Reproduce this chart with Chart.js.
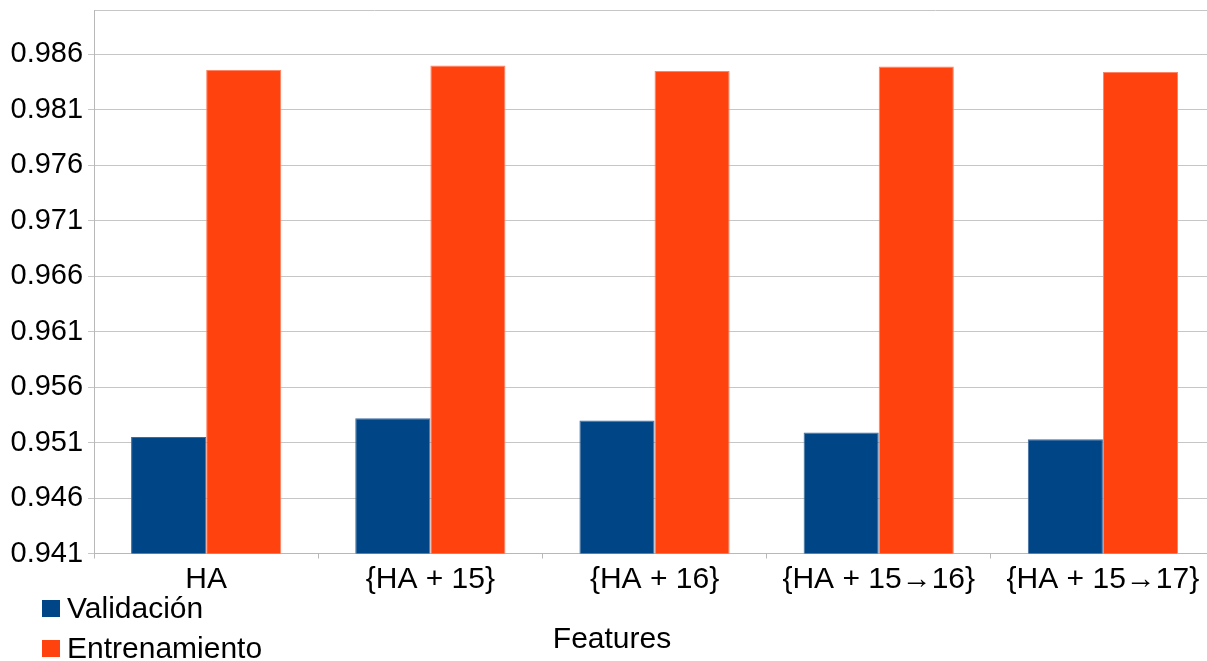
<!DOCTYPE html>
<html>
<head>
<meta charset="utf-8">
<script src="https://cdn.jsdelivr.net/npm/chart.js@4/dist/chart.umd.min.js"></script>
<style>
  html, body { margin: 0; padding: 0; overflow: hidden; background: #ffffff; }
  #wrap { width: 1216px; height: 661px; }
</style>
</head>
<body>
<div id="wrap"><canvas id="c" width="1216" height="661"></canvas></div>
<script>
// Feature sets compared
const categories = ['HA', '{HA + 15}', '{HA + 16}', '{HA + 15\u219216}', '{HA + 15\u219217}'];

// Accuracy per feature set
const validacion    = [0.9515, 0.9532, 0.9530, 0.9519, 0.9513];
const entrenamiento = [0.9846, 0.9850, 0.9845, 0.9849, 0.9844];

// Value axis
const yTicks = [0.941, 0.946, 0.951, 0.956, 0.961, 0.966, 0.971, 0.976, 0.981, 0.986];
const yMin = 0.941;
const yMax = 0.990;

const xTitle = 'Features';

const FONT = '"Liberation Sans", Arial, sans-serif';
Chart.defaults.font.family = FONT;
Chart.defaults.font.size = 30;
Chart.defaults.color = '#000000';

// Legend stacked in the lower-left corner, axis title to its right
const bottomTexts = {
  id: 'bottomTexts',
  afterDraw(chart) {
    const ctx = chart.ctx;
    ctx.save();
    ctx.font = '30px ' + FONT;
    ctx.textBaseline = 'alphabetic';
    ctx.textAlign = 'left';
    chart.data.datasets.forEach((ds, i) => {
      const top = 600 + i * 40;
      ctx.fillStyle = ds.backgroundColor;
      ctx.fillRect(42, top, 18, 17);
      ctx.fillStyle = '#000000';
      ctx.fillText(ds.label, 67, top + 17.5);
    });
    ctx.textAlign = 'center';
    ctx.fillStyle = '#000000';
    ctx.fillText(xTitle, 612, 647.5);
    ctx.restore();
  }
};

new Chart(document.getElementById('c'), {
  type: 'bar',
  data: {
    labels: categories,
    datasets: [
      {
        label: 'Validación',
        data: validacion,
        backgroundColor: '#004586',
        borderColor: '#3d6b9e',
        borderWidth: 1,
        barPercentage: 1,
        categoryPercentage: 0.67
      },
      {
        label: 'Entrenamiento',
        data: entrenamiento,
        backgroundColor: '#ff420e',
        borderColor: '#ff8464',
        borderWidth: 1,
        barPercentage: 1,
        categoryPercentage: 0.67
      }
    ]
  },
  options: {
    responsive: false,
    animation: false,
    layout: { padding: { left: 5.5, top: 10, right: 1, bottom: 59.5 } },
    plugins: {
      legend: { display: false },
      tooltip: { enabled: false }
    },
    scales: {
      x: {
        position: 'bottom',
        grid: {
          display: true,
          drawOnChartArea: false,
          drawTicks: true,
          tickLength: 5,
          color: '#b8b8b8'
        },
        border: { display: true, color: '#b8b8b8', width: 1 },
        ticks: { padding: 3.5, color: '#000000', font: { size: 30 } }
      },
      xTop: {
        type: 'category',
        position: 'top',
        grid: { display: false, drawTicks: false },
        ticks: { display: false },
        border: { display: true, color: '#c6c6c6', width: 1 }
      },
      y: {
        min: yMin,
        max: yMax,
        afterBuildTicks(scale) {
          scale.ticks = yTicks.map(v => ({ value: v }));
        },
        grid: {
          color: '#c6c6c6',
          tickLength: 6,
          drawTicks: true
        },
        border: { display: true, color: '#b8b8b8', width: 1 },
        ticks: {
          padding: 5,
          color: '#000000',
          font: { size: 29, lineHeight: 0.3 },
          callback: v => Number(v).toFixed(3)
        }
      }
    }
  },
  plugins: [bottomTexts]
});
</script>
</body>
</html>
